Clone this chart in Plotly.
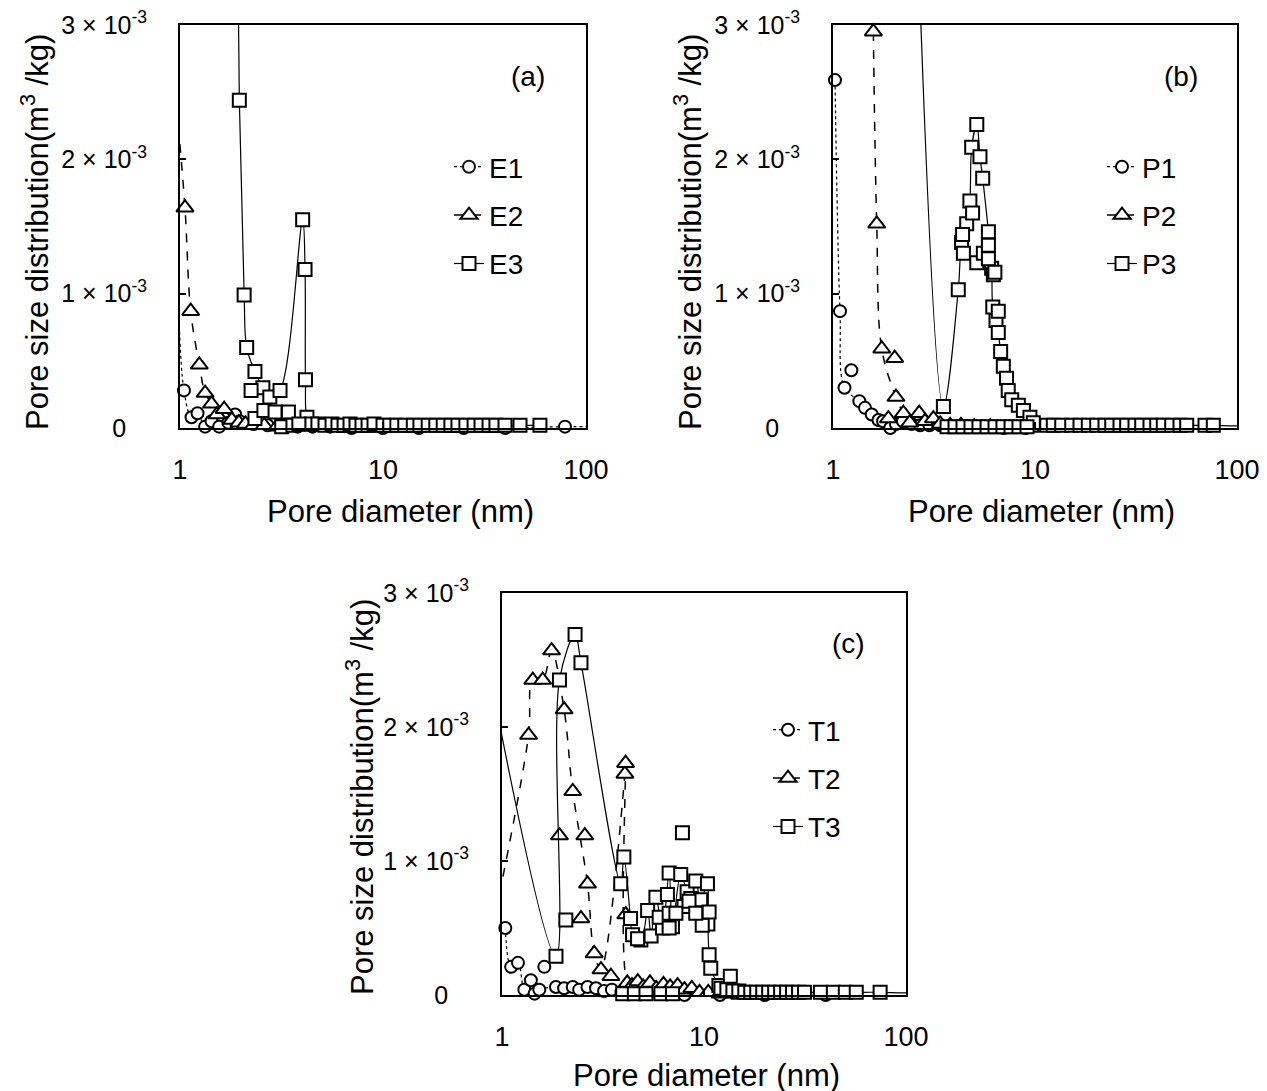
import plotly.graph_objects as go

# ---------------- data (y in units of 1e-3 m3/kg) ----------------
# Panel (a)
E1_x = [0.98, 1.046, 1.14, 1.22, 1.33, 1.43, 1.56, 1.73, 1.87, 1.97, 2.3, 2.7, 3.2, 3.8, 4.5, 5.5, 7.0, 10.0, 15.0, 25.0, 40.0, 78.8, 130]
E1_y = [1.03, 0.28, 0.08, 0.11, 0.01, 0.05, 0.01, 0.04, 0.10, 0.05, 0.03, 0.02, 0.02, 0.01, 0.01, 0.01, 0.0, 0.0, 0.0, 0.0, 0.0, 0.01, 0.01]
E2_x = [0.98, 1.058, 1.129, 1.245, 1.33, 1.43, 1.52, 1.65, 1.80, 1.95, 2.1, 2.3, 2.6, 3.0, 3.5, 4.2, 5.0, 6.5, 9.0, 14.0, 22.0, 35.0]
E2_y = [2.25, 1.64, 0.87, 0.47, 0.26, 0.18, 0.10, 0.14, 0.06, 0.04, 0.03, 0.02, 0.02, 0.01, 0.01, 0.01, 0.01, 0.0, 0.0, 0.0, 0.0, 0.0]
E3_x = [1.87, 1.96, 2.07, 2.13, 2.34, 2.56, 2.77, 3.11, 4.02, 4.13, 4.15, 4.22, 4.45, 4.78, 5.18, 5.61, 6.00, 6.43, 6.88, 7.36,
        7.88, 8.44, 9.03, 10.0, 10.8, 11.7, 12.8, 14.1, 15.2, 16.7, 18.2, 19.8, 21.6, 23.4, 25.6, 28.1, 30.4, 33.3, 36.0, 39.9, 47.3, 59.3]
E3_y = [5.5, 2.44, 0.99, 0.60, 0.42, 0.30, 0.23, 0.28, 1.55, 1.18, 0.36, 0.08, 0.03, 0.03, 0.02, 0.03, 0.02, 0.02, 0.03, 0.02,
        0.02, 0.02, 0.03, 0.02, 0.02, 0.02, 0.02, 0.02, 0.02, 0.02, 0.02, 0.02, 0.02, 0.02, 0.02, 0.02, 0.02, 0.02, 0.02, 0.02, 0.02, 0.02]
E3_extra_x = [2.24, 2.34, 2.59, 2.94, 3.17, 3.42, 3.60, 3.85]
E3_extra_y = [0.28, 0.07, 0.13, 0.12, 0.01, 0.12, 0.02, 0.03]

# Panel (b)
P1_x = [1.023, 1.083, 1.14, 1.35, 1.44, 1.555, 1.68, 1.77, 1.92, 2.05, 2.22, 2.45, 2.7, 3.0, 3.4, 3.9, 4.6, 5.5, 7.0, 9.0]
P1_y = [2.59, 0.87, 0.30, 0.20, 0.15, 0.10, 0.06, 0.05, 0.00, 0.03, 0.05, 0.03, 0.02, 0.02, 0.02, 0.01, 0.01, 0.01, 0.0, 0.0]
P1_extra_x = [1.233]
P1_extra_y = [0.43]
P2_x = [1.584, 1.646, 1.743, 2.05, 2.23, 2.40, 2.67, 2.85, 3.14, 3.4, 3.8, 4.3, 5.0, 6.0, 7.5, 9.5]
P2_y = [2.95, 1.52, 0.59, 0.23, 0.11, 0.04, 0.11, 0.05, 0.07, 0.03, 0.02, 0.02, 0.01, 0.01, 0.0, 0.0]
P2_extra_x = [1.88, 2.02]
P2_extra_y = [0.07, 0.52]
P3_x = [2.65, 3.52, 4.17, 4.33, 4.59, 4.76, 4.86, 5.15, 5.34, 5.51, 5.88, 6.10, 6.18, 6.41, 6.58, 6.76, 6.97, 7.23, 7.37, 7.67,
        8.27, 8.76, 9.44, 9.81, 11.43, 12.32, 13.56, 15.20, 16.70, 18.36, 20.21, 22.21, 23.98, 26.35, 28.44, 31.26, 33.75,
        37.10, 40.05, 43.16, 47.51, 52.22, 56.36, 69.43, 76.33, 130]
P3_y = [3.5, 0.16, 1.03, 1.38, 1.52, 1.69, 2.09, 2.26, 2.02, 1.86, 1.46, 1.19, 0.90, 0.80, 0.71, 0.57, 0.46, 0.37, 0.28, 0.21,
        0.17, 0.13, 0.08, 0.04, 0.02, 0.02, 0.02, 0.02, 0.02, 0.02, 0.02, 0.02, 0.02, 0.02, 0.02, 0.02, 0.02,
        0.02, 0.02, 0.02, 0.02, 0.02, 0.02, 0.02, 0.02, 0.01]
P3_extra_x = [4.38, 4.42, 4.91, 5.15, 5.55, 5.88, 5.88, 6.22, 6.33, 6.58, 3.67, 4.02, 4.40, 4.82, 5.28, 5.79, 6.34, 6.94, 7.61, 8.33, 9.13]
P3_extra_y = [1.44, 1.30, 1.60, 1.23, 1.30, 1.36, 1.26, 1.14, 1.16, 0.87, 0.01, 0.01, 0.01, 0.01, 0.01, 0.01, 0.01, 0.01, 0.01, 0.01, 0.01]

# Panel (c)
T1_x = [1.038, 1.11, 1.20, 1.29, 1.39, 1.45, 1.53, 1.85, 2.03, 2.24, 2.41, 2.65, 2.92, 3.2, 3.5, 3.9, 4.4, 5.0, 6.0, 8.0, 12.0, 20.0, 40.0]
T1_y = [0.50, 0.21, 0.24, 0.04, 0.11, 0.01, 0.04, 0.06, 0.05, 0.06, 0.04, 0.06, 0.05, 0.03, 0.04, 0.02, 0.02, 0.01, 0.01, 0.0, 0.0, 0.0, 0.0]
T1_extra_x = [1.62]
T1_extra_y = [0.21]
T2_x = [0.97, 1.354, 1.42, 1.59, 1.76, 2.03, 2.24, 2.65, 2.86, 3.09, 4.06, 4.09, 4.17, 4.4, 4.7, 5.0, 5.4, 5.8, 6.3, 6.8,
        7.4, 8.0, 8.7, 9.5, 10.5, 12.0, 15.0, 20.0]
T2_y = [0.75, 1.94, 2.35, 2.35, 2.57, 2.13, 1.52, 0.83, 0.31, 0.19, 1.65, 1.73, 0.09, 0.07, 0.10, 0.06, 0.09, 0.05, 0.08, 0.06,
        0.07, 0.04, 0.05, 0.02, 0.02, 0.01, 0.0, 0.0]
T2_extra_x = [1.925, 2.46, 2.57, 3.46, 4.10]
T2_extra_y = [1.19, 0.57, 1.19, 0.14, 0.60]
T3_x = [0.95, 1.85, 1.925, 2.30, 2.46, 3.87, 4.01, 4.33, 4.43, 4.87, 5.26, 5.47, 5.78, 6.23, 6.72, 6.98, 7.67, 8.25, 8.6, 9.1,
        9.63, 10.4, 10.45, 10.6, 10.8, 11.85, 12.13, 12.98, 13.90, 14.87, 15.92, 17.04, 18.24, 19.53, 20.90, 22.38, 23.95,
        25.64, 27.44, 29.38, 31.45, 37.71, 43.70, 50.06, 56.72, 74.45, 130]
T3_y = [2.1, 0.29, 2.35, 2.69, 2.48, 0.83, 1.03, 0.57, 0.45, 0.41, 0.63, 0.44, 0.73, 0.50, 0.91, 0.51, 0.90, 0.77, 0.72, 0.85,
        0.71, 0.83, 0.53, 0.30, 0.20, 0.07, 0.05, 0.04, 0.03, 0.03, 0.02, 0.02, 0.02, 0.02, 0.02, 0.02, 0.02,
        0.02, 0.02, 0.02, 0.02, 0.02, 0.02, 0.02, 0.02, 0.02, 0.01]
T3_extra_x = [2.07, 7.82, 6.59, 6.0, 9.8, 10.6, 7.96, 6.72, 13.5, 7.26, 8.43, 9.1, 4.69, 6.72, 3.96, 4.52, 5.16, 6.12, 6.98]
T3_extra_y = [0.56, 1.21, 0.75, 0.58, 0.52, 0.62, 0.66, 0.61, 0.14, 0.61, 0.70, 0.61, 0.42, 0.50, 0.01, 0.01, 0.01, 0.01, 0.01]

x_ticks = [1, 10, 100]
x_ticktext = ["1", "10", "100"]
y_ticks = [0, 1, 2, 3]
y_ticktext = ["0\u00a0\u00a0\u00a0", "1 \u00d7 10<sup>-3</sup>", "2 \u00d7 10<sup>-3</sup>", "3 \u00d7 10<sup>-3</sup>"]

# ---------------- figure ----------------
W, H = 1267, 1091
PAGE_OFF = 8  # default page body margin
FONT = "Liberation Sans, Arial, sans-serif"

def px_x(p):
    return (p - PAGE_OFF) / W

def px_y(p):
    return 1 - (p - PAGE_OFF) / H

fig = go.Figure()

def opac(xs, ys):
    return [1 if (1 <= x <= 100 and y <= 3.1) else 0 for x, y in zip(xs, ys)]

styles = {
    "1": dict(symbol="circle", size=12, dash="dot", width=1.2),
    "2": dict(symbol="triangle-up", size=15, dash="dash", width=1.5),
    "3": dict(symbol="square", size=13, dash="solid", width=1.2),
}

def add_series(name, xs, ys, exs, eys, idx, axis_suffix, legend):
    st = styles[idx]
    xa = "x" + axis_suffix
    ya = "y" + axis_suffix
    fig.add_trace(go.Scatter(
        x=xs, y=ys, name=name, mode="lines+markers", xaxis=xa, yaxis=ya,
        legend=legend, legendgroup=name, cliponaxis=False,
        line=dict(color="black", width=st["width"], dash=st["dash"], shape="spline", smoothing=1.0),
        marker=dict(symbol=st["symbol"], size=st["size"], color="white",
                    opacity=opac(xs, ys), line=dict(color="black", width=2)),
    ))
    if exs:
        fig.add_trace(go.Scatter(
            x=exs, y=eys, name=name, mode="markers", xaxis=xa, yaxis=ya,
            legend=legend, legendgroup=name, showlegend=False, cliponaxis=False,
            marker=dict(symbol=st["symbol"], size=st["size"], color="white",
                        line=dict(color="black", width=2)),
        ))

add_series("E1", E1_x, E1_y, [], [], "1", "", "legend")
add_series("E2", E2_x, E2_y, [], [], "2", "", "legend")
add_series("E3", E3_x, E3_y, E3_extra_x, E3_extra_y, "3", "", "legend")
add_series("P1", P1_x, P1_y, P1_extra_x, P1_extra_y, "1", "2", "legend2")
add_series("P2", P2_x, P2_y, P2_extra_x, P2_extra_y, "2", "2", "legend2")
add_series("P3", P3_x, P3_y, P3_extra_x, P3_extra_y, "3", "2", "legend2")
add_series("T1", T1_x, T1_y, T1_extra_x, T1_extra_y, "1", "3", "legend3")
add_series("T2", T2_x, T2_y, T2_extra_x, T2_extra_y, "2", "3", "legend3")
add_series("T3", T3_x, T3_y, T3_extra_x, T3_extra_y, "3", "3", "legend3")

xbase = dict(type="log", range=[0, 2], tickvals=x_ticks, ticktext=x_ticktext,
             showline=True, mirror=True, linecolor="black", linewidth=2,
             ticks="inside", ticklen=6, tickwidth=1.5, tickcolor="black",
             showgrid=False, zeroline=False, ticklabelstandoff=17, automargin=False,
             ticklabeloverflow="allow",
             tickfont=dict(family=FONT, size=27, color="black"))
ybase = dict(range=[0, 3], tickvals=y_ticks, ticktext=y_ticktext,
             showline=True, mirror=True, linecolor="black", linewidth=2,
             ticks="inside", ticklen=6, tickwidth=1.5, tickcolor="black",
             showgrid=False, zeroline=False, ticklabelstandoff=26, automargin=False,
             ticklabeloverflow="allow",
             tickfont=dict(family=FONT, size=25, color="black"))

ya_dom = [px_y(428), px_y(25)]
yc_dom = [px_y(995), px_y(593)]

legbase = dict(font=dict(family=FONT, size=28, color="black"), bgcolor="rgba(0,0,0,0)",
               xanchor="left", yanchor="top", tracegroupgap=9, itemwidth=30)

fig.update_layout(
    width=W, height=H, margin=dict(l=0, r=0, t=0, b=0, pad=0, autoexpand=False),
    paper_bgcolor="white", plot_bgcolor="white",
    font=dict(family=FONT, color="black"),
    xaxis=dict(xbase, domain=[px_x(180), px_x(586)], anchor="y"),
    yaxis=dict(ybase, domain=ya_dom, anchor="x"),
    xaxis2=dict(xbase, domain=[px_x(833), px_x(1237)], anchor="y2"),
    yaxis2=dict(ybase, domain=ya_dom, anchor="x2"),
    xaxis3=dict(xbase, domain=[px_x(502), px_x(906)], anchor="y3"),
    yaxis3=dict(ybase, domain=yc_dom, anchor="x3"),
    legend=dict(legbase, x=px_x(449), y=px_y(142)),
    legend2=dict(legbase, x=px_x(1102), y=px_y(142)),
    legend3=dict(legbase, x=px_x(768), y=px_y(705)),
    showlegend=True,
)

ytitle = "Pore size distribution(m<sup>3</sup> /kg)"
xtitle = "Pore diameter (nm)"
ann = []
for (xp, yp, txt, ang) in [
    (35, 232, ytitle, -90), (688, 232, ytitle, -90), (360, 797, ytitle, -90),
    (400, 512, xtitle, 0), (1041, 512, xtitle, 0), (706, 1075, xtitle, 0),
]:
    ann.append(dict(x=px_x(xp), y=px_y(yp), xref="paper", yref="paper", text=txt,
                    showarrow=False, textangle=ang, xanchor="center", yanchor="middle",
                    font=dict(family=FONT, size=31, color="black")))
for (xp, yp, txt) in [(528, 77, "(a)"), (1181, 77, "(b)"), (848, 643, "(c)")]:
    ann.append(dict(x=px_x(xp), y=px_y(yp), xref="paper", yref="paper", text=txt,
                    showarrow=False, xanchor="center", yanchor="middle",
                    font=dict(family=FONT, size=28, color="black")))
fig.update_layout(annotations=ann)

fig.write_html("out.html")
